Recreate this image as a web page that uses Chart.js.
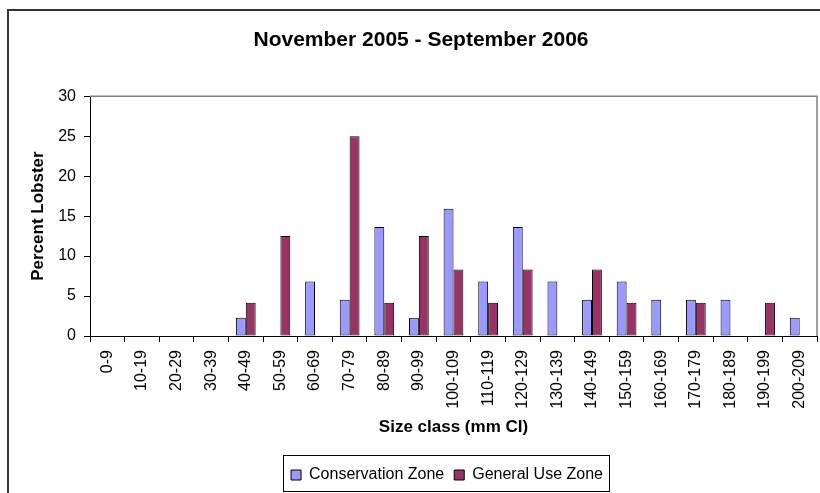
<!DOCTYPE html>
<html>
<head>
<meta charset="utf-8">
<title>Lobster size classes</title>
<script src="https://cdn.jsdelivr.net/npm/chart.js@4.4.1/dist/chart.umd.min.js"></script>
<style>
  html, body { margin: 0; padding: 0; background: #fff; overflow: hidden; }
  canvas { display: block; }
</style>
</head>
<body>
<canvas id="lobsterChart" width="820" height="493"></canvas>
<script>
// size classes (mm CI)
const sizeClasses = ['0-9', '10-19', '20-29', '30-39', '40-49', '50-59', '60-69', '70-79',
    '80-89', '90-99', '100-109', '110-119', '120-129', '130-139', '140-149', '150-159',
    '160-169', '170-179', '180-189', '190-199', '200-209'];

// percent of lobsters in each class
const conservationZone = [0, 0, 0, 0, 2.27, 0, 6.82, 4.55, 13.64, 2.27, 15.91, 6.82,
    13.64, 6.82, 4.55, 6.82, 4.55, 4.55, 4.55, 0, 2.27];
const generalUseZone = [0, 0, 0, 0, 4.17, 12.5, 0, 25, 4.17, 12.5, 8.33, 4.17,
    8.33, 0, 8.33, 4.17, 0, 4.17, 0, 4.17, 0];

const yTicks = [0, 5, 10, 15, 20, 25, 30];

const fontFamily = '"Liberation Sans", Arial, sans-serif';

// frame, plot border, legend box and box positions
const excelLook = {
    id: 'excelLook',
    afterLayout(chart) {
        const t = chart.titleBlock;
        const dt = 421 - (t.left + t.right) / 2;
        t.left += dt; t.right += dt;
        const lg = chart.legend;
        const dl = 447 - (lg.left + lg.right) / 2;
        lg.left += dl; lg.right += dl;
    },
    beforeDraw(chart) {
        const ctx = chart.ctx;
        ctx.save();
        ctx.strokeStyle = '#333';
        ctx.lineWidth = 2;
        ctx.beginPath();
        ctx.moveTo(8, 493);
        ctx.lineTo(8, 10);
        ctx.lineTo(820, 10);
        ctx.stroke();
        ctx.restore();
    },
    beforeDatasetsDraw(chart) {
        const {ctx, chartArea: a} = chart;
        ctx.save();
        ctx.strokeStyle = '#808080';
        ctx.lineWidth = 1.5;
        ctx.beginPath();
        ctx.moveTo(a.left, a.top);
        ctx.lineTo(a.right, a.top);
        ctx.lineTo(a.right, a.bottom);
        ctx.stroke();
        ctx.restore();
    },
    afterDraw(chart) {
        const boxes = chart.legend.legendHitBoxes;
        if (!boxes || !boxes.length) return;
        const first = boxes[0], last = boxes[boxes.length - 1];
        const ctx = chart.ctx;
        ctx.save();
        ctx.strokeStyle = '#000';
        ctx.lineWidth = 1;
        const x1 = Math.round(first.left) - 7.5;
        const x2 = Math.round(last.left + last.width) + 6.5;
        ctx.strokeRect(x1, 455.5, x2 - x1, 36);
        ctx.restore();
    }
};

new Chart(document.getElementById('lobsterChart'), {
    type: 'bar',
    data: {
        labels: sizeClasses,
        datasets: [{
            label: 'Conservation Zone',
            data: conservationZone,
            backgroundColor: '#9999FF',
            borderColor: '#000',
            borderWidth: 1,
            borderSkipped: false,
            categoryPercentage: 0.571,
            barPercentage: 1
        }, {
            label: 'General Use Zone',
            data: generalUseZone,
            backgroundColor: '#993366',
            borderColor: '#000',
            borderWidth: 1,
            borderSkipped: false,
            categoryPercentage: 0.571,
            barPercentage: 1
        }]
    },
    options: {
        responsive: false,
        animation: false,
        layout: { padding: { left: 10, right: 3, top: 0, bottom: 0 } },
        plugins: {
            title: {
                display: true,
                text: 'November 2005 - September 2006',
                color: '#000',
                font: { family: fontFamily, size: 21, weight: 'bold' },
                padding: { top: 28, bottom: 43 }
            },
            legend: {
                position: 'bottom',
                labels: {
                    color: '#000',
                    font: { family: fontFamily, size: 16 },
                    boxWidth: 10,
                    boxHeight: 10,
                    padding: 10,
                    generateLabels(chart) {
                        return chart.data.datasets.map((ds, i) => ({
                            text: ds.label,
                            fillStyle: ds.backgroundColor,
                            strokeStyle: '#000',
                            lineWidth: 1,
                            datasetIndex: i
                        }));
                    }
                }
            },
            tooltip: { enabled: false }
        },
        scales: {
            x: {
                afterFit(scale) {
                    scale.height = 121;
                    scale.paddingLeft = 0;
                    scale.paddingRight = 0;
                },
                grid: { offset: true, drawOnChartArea: false, color: '#000', tickLength: 6 },
                border: { color: '#000', width: 1 },
                ticks: {
                    color: '#000',
                    font: { family: fontFamily, size: 16 },
                    minRotation: 90,
                    maxRotation: 90,
                    autoSkip: false,
                    padding: 8
                },
                title: {
                    display: true,
                    text: 'Size class (mm CI)',
                    color: '#000',
                    font: { family: fontFamily, size: 17, weight: 'bold' },
                    padding: { top: 0, bottom: 19 }
                }
            },
            y: {
                min: 0,
                max: 30,
                afterFit(scale) { scale.width = 80; },
                afterBuildTicks(scale) { scale.ticks = yTicks.map(v => ({ value: v })); },
                grid: { drawOnChartArea: false, color: '#000', tickLength: 6 },
                border: { color: '#000', width: 1 },
                ticks: {
                    color: '#000',
                    font: { family: fontFamily, size: 16 },
                    padding: 8
                },
                title: {
                    display: true,
                    text: 'Percent Lobster',
                    color: '#000',
                    font: { family: fontFamily, size: 17, weight: 'bold' },
                    padding: { top: 18, bottom: 0 }
                }
            }
        }
    },
    plugins: [excelLook]
});
</script>
</body>
</html>
